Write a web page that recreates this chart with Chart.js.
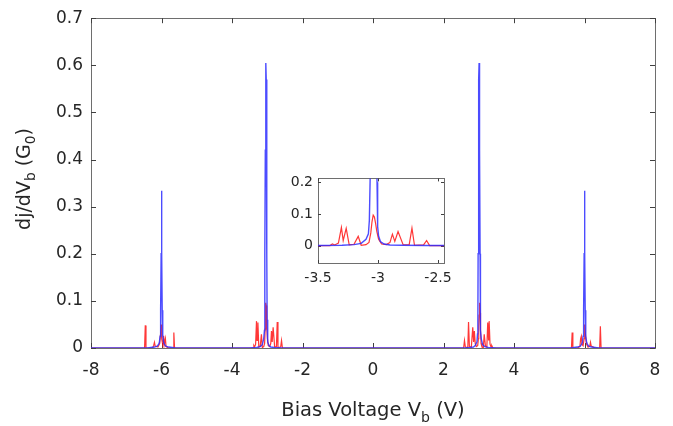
<!DOCTYPE html>
<html>
<head>
<meta charset="utf-8">
<script src="https://cdn.jsdelivr.net/npm/chart.js@4.4.0/dist/chart.umd.min.js"></script>
<style>
body{margin:0;background:#fff;}
#marco{position:relative;width:673px;height:426px;font-family:"DejaVu Sans",sans-serif;color:#262626;overflow:hidden;}
#principal{position:absolute;left:0;top:0;}
#caja-inset{position:absolute;left:262px;top:165px;width:198px;height:130px;}
.titulo-x{position:absolute;left:0;width:746px;top:398px;text-align:center;font-size:19.5px;white-space:nowrap;}
.titulo-y{position:absolute;left:-75px;top:166px;width:200px;height:26px;text-align:center;font-size:19px;white-space:nowrap;transform:rotate(-90deg);}
sub{font-size:72%;vertical-align:-0.4em;line-height:0;}
</style>
</head>
<body>
<div id="marco">
  <canvas id="principal" width="673" height="426"></canvas>
  <div id="caja-inset"><canvas id="inset" width="198" height="130"></canvas></div>
  <div class="titulo-x">Bias Voltage V<sub>b</sub> (V)</div>
  <div class="titulo-y">dj/dV<sub>b</sub> (G<sub>0</sub>)</div>
</div>
<script>
// curva azul
var xAzul = [-8, -6.4, -6.2, -6.12, -6.08, -6.06, -6.04, -6.03, -6.02, -6.01, -6.0, -5.99, -5.98, -5.97, -5.96, -5.94, -5.92, -5.88, -5.8, -5.6,
  -3.5, -3.3, -3.2, -3.14, -3.1, -3.08, -3.072, -3.066, -3.055, -3.045, -3.037, -3.029, -3.019, -3.008, -3.003, -2.995, -2.98, -2.95, -2.9, -2.8, -2.6,
  2.6, 2.75, 2.85, 2.9, 2.95, 2.965, 2.975, 2.982, 2.993, 3.002, 3.01, 3.018, 3.027, 3.038, 3.045, 3.052, 3.07, 3.11, 3.17, 3.27, 3.5,
  5.6, 5.8, 5.88, 5.92, 5.94, 5.96, 5.97, 5.98, 5.99, 6.0, 6.01, 6.02, 6.03, 6.04, 6.06, 6.08, 6.12, 6.2, 6.4, 8];
var yAzul = [0, 0, 0.002, 0.004, 0.008, 0.012, 0.025, 0.04, 0.08, 0.2, 0.334, 0.2, 0.08, 0.04, 0.025, 0.012, 0.008, 0.004, 0.002, 0,
  0, 0.001, 0.003, 0.007, 0.02, 0.037, 0.08, 0.2, 0.42, 0.57, 0.605, 0.57, 0.42, 0.2, 0.06, 0.03, 0.013, 0.005, 0.002, 0.001, 0,
  0, 0.001, 0.002, 0.005, 0.013, 0.03, 0.06, 0.2, 0.42, 0.57, 0.605, 0.57, 0.42, 0.2, 0.08, 0.037, 0.02, 0.007, 0.003, 0.001, 0,
  0, 0.002, 0.004, 0.008, 0.012, 0.025, 0.04, 0.08, 0.2, 0.334, 0.2, 0.08, 0.04, 0.025, 0.012, 0.008, 0.004, 0.002, 0, 0];

// curva roja
var xRojo = [-8, -6.48, -6.46, -6.44, -6.25, -6.22, -6.2, -6.18, -6.1, -6.05, -6.02, -6.01, -6.0, -5.99, -5.96, -5.94, -5.92, -5.89, -5.87, -5.8, -5.67, -5.65, -5.63,
  -3.6, -3.4, -3.38, -3.36, -3.33, -3.305, -3.29, -3.265, -3.24, -3.2, -3.165, -3.14, -3.1, -3.075, -3.06, -3.05, -3.04, -3.03, -3.02, -3.01, -2.995, -2.97, -2.93, -2.9, -2.88, -2.86, -2.833, -2.79, -2.74, -2.717, -2.696, -2.62, -2.595, -2.57,
  2.57, 2.595, 2.62, 2.69, 2.71, 2.735, 2.79, 2.83, 2.855, 2.875, 2.9, 2.93, 2.97, 2.99, 3.0, 3.01, 3.02, 3.03, 3.04, 3.05, 3.065, 3.09, 3.13, 3.155, 3.19, 3.23, 3.255, 3.28, 3.295, 3.32, 3.35, 3.37, 3.4,
  5.63, 5.65, 5.67, 5.8, 5.87, 5.89, 5.91, 5.93, 5.96, 5.99, 6.0, 6.01, 6.02, 6.05, 6.1, 6.15, 6.17, 6.19, 6.3, 6.43, 6.45, 6.47, 8];
var yRojo = [0, 0, 0.048, 0, 0, 0.006, 0.012, 0.004, 0.002, 0.01, 0.035, 0.05, 0.045, 0.02, 0.005, 0.026, 0.008, 0.02, 0.003, 0, 0, 0.033, 0,
  0, 0, 0.005, 0.002, 0.008, 0.057, 0.016, 0.054, 0.002, 0.004, 0.029, 0.001, 0.003, 0.01, 0.04, 0.075, 0.096, 0.09, 0.07, 0.045, 0.02, 0.005, 0.003, 0.01, 0.036, 0.013, 0.044, 0.002, 0.003, 0.055, 0.001, 0.002, 0.016, 0,
  0, 0.016, 0.002, 0.001, 0.055, 0.003, 0.002, 0.044, 0.013, 0.036, 0.01, 0.003, 0.005, 0.02, 0.045, 0.07, 0.09, 0.096, 0.075, 0.04, 0.01, 0.003, 0.001, 0.029, 0.004, 0.002, 0.054, 0.016, 0.057, 0.008, 0.002, 0.005, 0,
  0, 0.033, 0, 0, 0.003, 0.02, 0.025, 0.008, 0.005, 0.02, 0.045, 0.05, 0.035, 0.01, 0.002, 0.004, 0.012, 0.004, 0, 0, 0.046, 0, 0];

var ticksX = [-8, -6, -4, -2, 0, 2, 4, 6, 8];
var ticksY = [0, 0.1, 0.2, 0.3, 0.4, 0.5, 0.6, 0.7];
var ticksXInset = [-3.5, -3, -2.5];
var ticksYInset = [0, 0.1, 0.2];

function pares(xs, ys){
  return xs.map(function(x, i){ return {x: x, y: ys[i]}; });
}
function fmt(v){ return String(Math.round(v*10)/10); }

// caja y marcas hacia dentro, estilo matlab
var cajaMatlab = {
  id: 'cajaMatlab',
  beforeDatasetsDraw: function(chart, args, opts){
    var ctx = chart.ctx, a = chart.chartArea, sx = chart.scales.x, sy = chart.scales.y;
    var L = opts.largo || 5;
    ctx.save();
    ctx.strokeStyle = '#6e6e6e';
    ctx.lineWidth = 1;
    ctx.strokeRect(Math.round(a.left)+0.5, Math.round(a.top)+0.5, Math.round(a.right-a.left), Math.round(a.bottom-a.top));
    ctx.strokeStyle = '#404040';
    ctx.beginPath();
    sx.ticks.forEach(function(t){
      var p = Math.round(sx.getPixelForValue(t.value))+0.5;
      ctx.moveTo(p, a.bottom); ctx.lineTo(p, a.bottom-L);
      ctx.moveTo(p, a.top); ctx.lineTo(p, a.top+L);
    });
    sy.ticks.forEach(function(t){
      var p = Math.round(sy.getPixelForValue(t.value))+0.5;
      ctx.moveTo(a.left, p); ctx.lineTo(a.left+L, p);
      ctx.moveTo(a.right, p); ctx.lineTo(a.right-L, p);
    });
    ctx.stroke();
    ctx.restore();
  }
};

function datos(){
  return {
    datasets: [{
      label: 'azul',
      data: pares(xAzul, yAzul),
      borderColor: 'rgba(45,45,255,0.85)',
      borderWidth: 1.4,
      pointRadius: 0,
      tension: 0
    },{
      label: 'rojo',
      data: pares(xRojo, yRojo),
      borderColor: 'rgba(255,20,20,0.85)',
      borderWidth: 1.2,
      pointRadius: 0,
      tension: 0
    }]
  };
}

function crearGrafica(id, cfg){
  return new Chart(document.getElementById(id), {
    type: 'line',
    data: datos(),
    plugins: [cajaMatlab],
    options: {
      responsive: false,
      animation: false,
      layout: {padding: cfg.padding},
      plugins: {
        legend: {display: false},
        tooltip: {enabled: false},
        cajaMatlab: {largo: cfg.largo}
      },
      scales: {
        x: {
          type: 'linear',
          min: cfg.xmin, max: cfg.xmax,
          afterBuildTicks: function(s){ s.ticks = cfg.ticksX.map(function(v){ return {value: v}; }); },
          afterFit: function(s){ s.height = cfg.altoX; },
          grid: {display: false, drawTicks: false},
          border: {display: false},
          ticks: {color: '#262626', font: {family: 'DejaVu Sans', size: cfg.fuente}, padding: cfg.padX, maxRotation: 0, autoSkip: false, callback: fmt}
        },
        y: {
          type: 'linear',
          min: cfg.ymin, max: cfg.ymax,
          afterBuildTicks: function(s){ s.ticks = cfg.ticksY.map(function(v){ return {value: v}; }); },
          afterFit: function(s){ s.width = cfg.anchoY; },
          grid: {display: false, drawTicks: false},
          border: {display: false},
          ticks: {color: '#262626', font: {family: 'DejaVu Sans', size: cfg.fuente}, padding: cfg.padY, autoSkip: false, callback: fmt}
        }
      }
    }
  });
}

crearGrafica('principal', {
  padding: {top: 18, right: 18, left: 0, bottom: 0},
  xmin: -8, xmax: 8, ymin: 0, ymax: 0.7,
  ticksX: ticksX, ticksY: ticksY,
  altoX: 78, anchoY: 91, fuente: 17, padX: 12, padY: 8, largo: 5
});

crearGrafica('inset', {
  padding: {top: 12, right: 16, left: 0, bottom: 0},
  xmin: -3.5, xmax: -2.45, ymin: -0.055, ymax: 0.212,
  ticksX: ticksXInset, ticksY: ticksYInset,
  altoX: 32, anchoY: 56, fuente: 14, padX: 7, padY: 5, largo: 3
});
</script>
</body>
</html>
